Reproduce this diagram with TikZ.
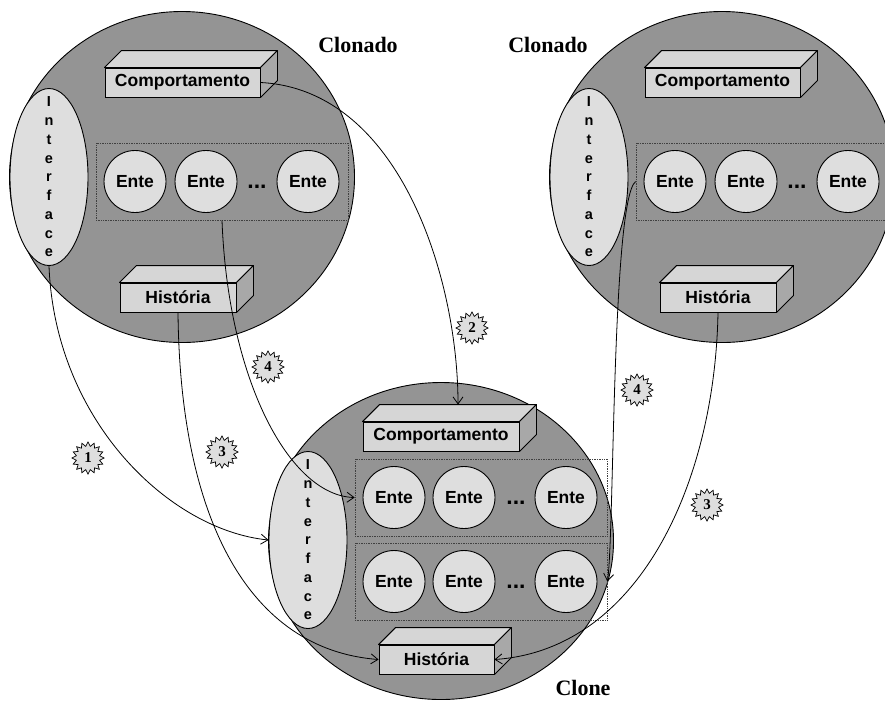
\documentclass[tikz,border=0pt]{standalone}
\usepackage{fontspec}
\setmainfont{Liberation Serif}
\setsansfont{Liberation Sans}
\usetikzlibrary{shapes.geometric, arrows.meta, calc}
\definecolor{fundo}{gray}{0.58}
\definecolor{claro}{gray}{0.87}
\definecolor{face}{gray}{0.84}
\definecolor{lado}{gray}{0.66}
\newcommand\prof{17}

% caixa em 3D: nome, posicao, largura, texto
\newcommand\bloco[4]{%
  \node[caixa, minimum width=#3] (#1) at (#2) {#4};
  \filldraw[fill=face, line width=0.9pt, line join=round] (#1.north west) -- ++(\prof,-\prof) -- ($(#1.north east)+(\prof,-\prof)$) -- (#1.north east) -- cycle;
  \filldraw[fill=lado, line width=0.9pt, line join=round] (#1.north east) -- ++(\prof,-\prof) -- ($(#1.south east)+(\prof,-\prof)$) -- (#1.south east) -- cycle;
}

\tikzset{
  objeto/.style={ellipse, draw, fill=fundo, line width=0.9pt, minimum width=345pt, minimum height=331pt},
  ente/.style={circle, draw, fill=claro, line width=0.9pt, minimum size=62pt, inner sep=0pt, font=\sffamily\bfseries\fontsize{17.5}{20}\selectfont},
  reticencia/.style={anchor=base, inner sep=0pt, font=\sffamily\bfseries\fontsize{23}{26}\selectfont},
  interface/.style={ellipse, draw, fill=claro, line width=0.9pt, minimum width=78pt, minimum height=177pt},
  letras/.style={align=center, inner sep=0pt, font=\sffamily\bfseries\fontsize{14.5}{18.75}\selectfont},
  caixa/.style={rectangle, draw, fill=face, line width=0.9pt, minimum height=29pt, inner sep=0pt, font=\sffamily\bfseries\fontsize{17.5}{20}\selectfont},
  grupo/.style={rectangle, draw=black!75, densely dotted, line width=0.7pt, minimum width=252pt, minimum height=77pt},
  passo/.style={star, star points=16, star point ratio=1.35, draw, fill=claro, line width=0.7pt, minimum size=32pt, inner sep=0pt, font=\bfseries\fontsize{15}{17}\selectfont},
  titulo/.style={font=\bfseries\fontsize{22}{24}\selectfont},
  liga/.style={->, line width=0.8pt}
}

\begin{document}
\begin{tikzpicture}[x=1pt, y=-1pt, >={Straight Barb[length=7pt, width=10pt]}]
\useasboundingbox (0,0) rectangle (885,702);

% os dois clonados
\foreach \dx/\obj in {0/A, 540/B} {
  \node[objeto] (obj\obj) at (182+\dx,177) {};
  \node[interface] (if\obj) at (49+\dx,177) {};
  \node[letras] (ifl\obj) at (if\obj) {I\\n\\t\\e\\r\\f\\a\\c\\e};
  \bloco{comp\obj}{182.5+\dx,82.5}{155pt}{Comportamento}
  \node[grupo] (grp\obj) at (222+\dx,181.5) {};
  \node[ente] (e\obj1) at (135+\dx,181.5) {Ente};
  \node[ente] (e\obj2) at (206+\dx,181.5) {Ente};
  \node[reticencia] (ret\obj) at (257+\dx,188) {...};
  \node[ente] (e\obj3) at (308+\dx,181.5) {Ente};
  \bloco{hist\obj}{178+\dx,297.5}{116pt}{História}
}

% o clone
\node[objeto, minimum height=317pt] (objC) at (441,541) {};
\bloco{compC}{441,436.5}{156pt}{Comportamento}
\node[interface] (ifC) at (308,540) {};
\node[letras] (iflC) at (ifC) {I\\n\\t\\e\\r\\f\\a\\c\\e};
\node[grupo] (grpC1) at (481,497.5) {};
\node[grupo] (grpC2) at (481,581.5) {};
\foreach \lin/\yy in {1/497.5, 2/581.5} {
  \node[ente] (eC\lin1) at (394,\yy) {Ente};
  \node[ente] (eC\lin2) at (464,\yy) {Ente};
  \node[reticencia] (retC\lin) at (516,\yy+6.5) {...};
  \node[ente] (eC\lin3) at (566,\yy) {Ente};
}
\bloco{histC}{436.5,659.5}{115pt}{História}

\node[titulo] (titA) at (358,45) {Clonado};
\node[titulo] (titB) at (548,45) {Clonado};
\node[titulo] (titC) at (583,688) {Clone};

% ligacoes
\draw[liga] (ifA.south) .. controls +(6,155) and +(-99,-10) .. (ifC.west);
\draw[liga] (compA.east) .. controls +(140,7) and +(0,-125) .. ($(compC.north)+(\prof,-\prof)$);
\draw[liga] (histA.south) .. controls +(2,208) and +(-129,-10) .. (histC.west);
\draw[liga] (grpA.south) .. controls +(6,160) and +(-65,-2) .. (grpC1.west);
\draw[liga] (grpB.west) .. controls +(-24,18) and +(7,-42) .. (grpC2.east);
\draw[liga] (histB.south) .. controls +(-3,168) and +(146,-10) .. (histC.east);

\node[passo] (p1) at (88,458) {1};
\node[passo] (p2) at (472,328) {2};
\node[passo] (p3a) at (222,452) {3};
\node[passo] (p3b) at (707,505) {3};
\node[passo] (p4a) at (268,367) {4};
\node[passo] (p4b) at (637,390) {4};

\end{tikzpicture}
\end{document}
